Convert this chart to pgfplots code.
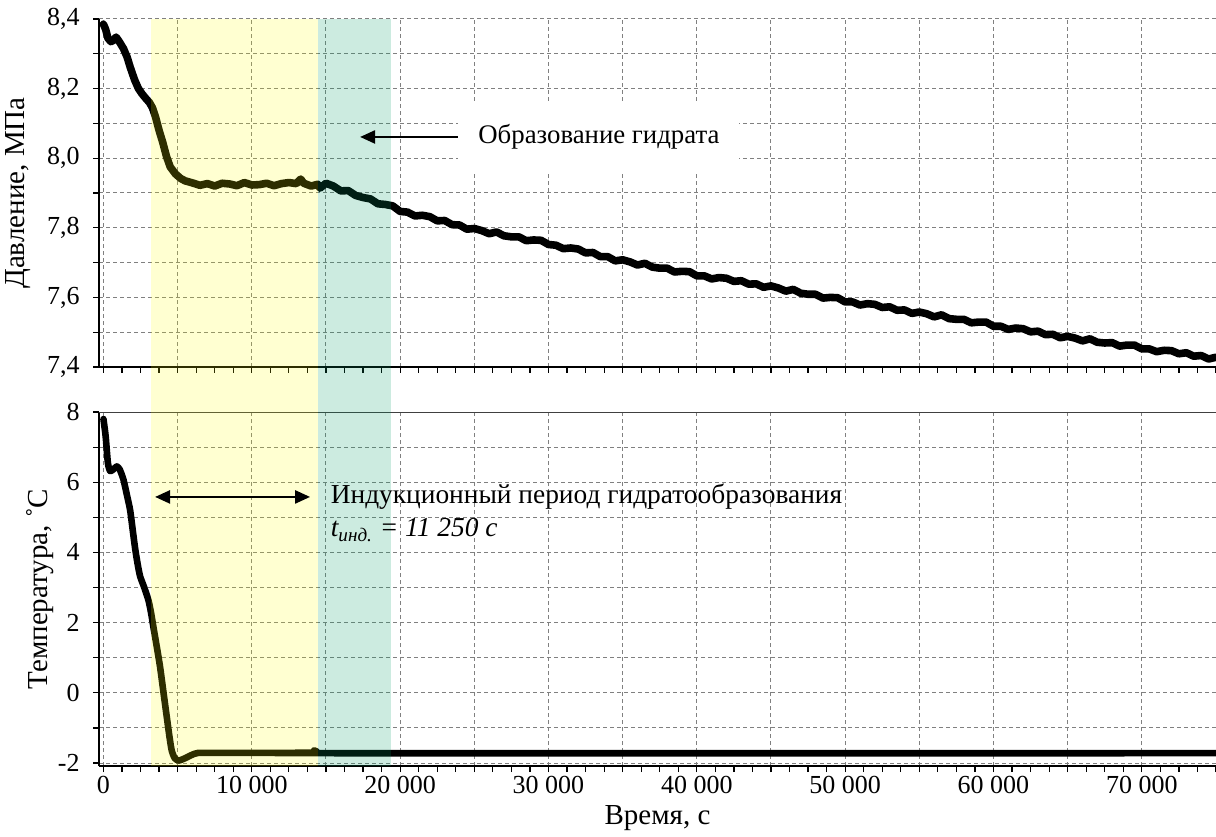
\documentclass[border=0pt]{standalone}
\usepackage{fontspec}
\setmainfont{Liberation Serif}
\usepackage{pgfplots}
\pgfplotsset{compat=1.18}
\usetikzlibrary{arrows.meta}

\definecolor{gridgray}{gray}{0.5}
\definecolor{hydyellow}{rgb}{1,1,0}
\definecolor{hydteal}{rgb}{0,0.6,0.4}

\pgfplotsset{
  gridline/.style={gridgray, line width=0.5pt, dash pattern=on 2pt off 1.5pt},
  panel/.style={
    scale only axis, width=558.5pt, anchor=south west,
    xmin=-300, xmax=75000,
    scaled x ticks=false, scaled y ticks=false,
    axis x line*=bottom, axis y line*=left,
    axis line style={-, line width=1.3pt, black},
    tick align=outside,
    xtick={0,10000,20000,30000,40000,50000,60000,70000},
    minor xtick={5000,15000,25000,35000,45000,55000,65000,75000},
    grid=both,
    major grid style={gridline},
    minor grid style={gridline},
    tick style={black, line width=0.6pt},
    major tick length=3pt, minor tick length=3pt,
    extra x ticks={0,1250,...,75000}, extra x tick labels={},
    extra x tick style={grid=none},
    clip=true,
  },
}

\begin{document}
\begin{tikzpicture}
\useasboundingbox (0,0) rectangle (608pt,418pt);

% ---------- pressure ----------
\begin{axis}[panel, name=top,
  at={(49.5pt,234.5pt)}, height=174pt,
  ymin=7.4, ymax=8.4,
  ytick={7.4,7.6,7.8,8.0,8.2,8.4},
  yticklabels={{7,4},{7,6},{7,8},{8,0},{8,2},{8,4}},
  minor ytick={7.5,7.7,7.9,8.1,8.3},
  xticklabels={},
  yticklabel style={font=\fontsize{13}{15}\selectfont, anchor=east, inner sep=0pt, xshift=-6.5pt},
  ylabel={Давление, МПа},
  ylabel style={at={(axis description cs:-0.0725,0.5)}, anchor=center,
    font=\fontsize{14.5}{16}\selectfont},
]
\addplot[black, line width=3.8pt, line join=round, line cap=round] coordinates {
(0,8.385) (150,8.370) (300,8.345) (500,8.335) (650,8.338) (850,8.348)
(1050,8.336) (1350,8.315) (1600,8.290) (1800,8.262) (2100,8.225) (2360,8.200)
(2600,8.185) (2850,8.172) (3100,8.160) (3300,8.145) (3500,8.120) (3750,8.080)
(4000,8.045) (4250,8.005) (4500,7.975) (4850,7.955) (5200,7.942) (5500,7.935)
(6000,7.929) (6500,7.922) (7000,7.927) (7500,7.920) (8000,7.928) (8500,7.926)
(9000,7.921) (9500,7.930) (10000,7.923) (10500,7.924) (11000,7.928) (11500,7.921)
(12000,7.927) (12500,7.930) (13000,7.927) (13300,7.940) (13500,7.928) (14000,7.920)
(14450,7.925) (14600,7.914) (15000,7.928) (15500,7.920) (16000,7.906) (16500,7.907)
(17000,7.893) (17500,7.887) (18000,7.883) (18500,7.869) (19000,7.867) (19500,7.863)
(20000,7.847) (20500,7.845) (21000,7.834) (21500,7.836) (22000,7.832) (22500,7.820)
(23000,7.821) (23500,7.809) (24000,7.808) (24500,7.796) (25000,7.798) (25500,7.792)
(26000,7.783) (26500,7.788) (27000,7.777) (27500,7.774) (28000,7.774) (28500,7.763)
(29000,7.765) (29500,7.764) (30000,7.752) (30500,7.750) (31000,7.740) (31500,7.742)
(32000,7.739) (32500,7.728) (33000,7.729) (33500,7.717) (34000,7.717) (34500,7.705)
(35000,7.708) (35500,7.702) (36000,7.693) (36500,7.698) (37000,7.687) (37500,7.684)
(38000,7.684) (38500,7.673) (39000,7.675) (39500,7.674) (40000,7.662) (40500,7.662)
(41000,7.653) (41500,7.657) (42000,7.655) (42500,7.646) (43000,7.648) (43500,7.638)
(44000,7.639) (44500,7.629) (45000,7.633) (45500,7.627) (46000,7.618) (46500,7.623)
(47000,7.612) (47500,7.609) (48000,7.609) (48500,7.598) (49000,7.600) (49500,7.599)
(50000,7.587) (50500,7.587) (51000,7.578) (51500,7.582) (52000,7.580) (52500,7.571)
(53000,7.573) (53500,7.563) (54000,7.564) (54500,7.554) (55000,7.558) (55500,7.553)
(56000,7.544) (56500,7.550) (57000,7.539) (57500,7.537) (58000,7.537) (58500,7.527)
(59000,7.529) (59500,7.529) (60000,7.517) (60500,7.517) (61000,7.508) (61500,7.512)
(62000,7.510) (62500,7.501) (63000,7.503) (63500,7.493) (64000,7.494) (64500,7.484)
(65000,7.488) (65500,7.483) (66000,7.475) (66500,7.481) (67000,7.471) (67500,7.469)
(68000,7.470) (68500,7.460) (69000,7.463) (69500,7.463) (70000,7.452) (70500,7.452)
(71000,7.444) (71500,7.448) (72000,7.447) (72500,7.438) (73000,7.441) (73500,7.431)
(74000,7.433) (74500,7.423) (75000,7.428)
};
\coordinate (ylwTop)  at (axis cs:3200,8.4);
\coordinate (tealTop) at (axis cs:19400,8.4);
\coordinate (arrTip)  at (axis cs:17300,8.061);
\coordinate (txtTop)  at (axis cs:23900,8.061);
\end{axis}

% ---------- temperature ----------
\begin{axis}[panel, name=bot,
  at={(49.5pt,35pt)}, height=177pt,
  ymin=-2.085, ymax=8,
  ytick={-2,0,2,4,6,8},
  yticklabels={-2,0,2,4,6,8},
  minor ytick={-1,1,3,5,7},
  xticklabels={0,10 000,20 000,30 000,40 000,50 000,60 000,70 000},
  xticklabel style={font=\fontsize{13}{15}\selectfont, anchor=base, inner sep=0pt, yshift=-10.5pt},
  yticklabel style={font=\fontsize{13}{15}\selectfont, anchor=east, inner sep=0pt, xshift=-6.5pt},
  ylabel={Температура, ˚C},
  ylabel style={at={(axis description cs:-0.0528,0.5)}, anchor=center,
    font=\fontsize{14.5}{16}\selectfont},
  xlabel={Время, с},
  xlabel style={at={(axis description cs:0.5,-0.147)}, anchor=center,
    font=\fontsize{14.5}{16}\selectfont},
]
\draw[black!75, line width=0.7pt] (rel axis cs:0,1) -- (rel axis cs:1,1);
\addplot[black, line width=3.3pt, line join=round, line cap=round, smooth, tension=0.4] coordinates {
(0,7.8) (150,7.3) (300,6.55) (450,6.32) (650,6.36) (900,6.45) (1100,6.36)
(1350,6.07) (1600,5.6) (1800,5.2) (2000,4.55) (2140,4.1) (2300,3.68) (2470,3.32)
(2750,3.0) (3030,2.64) (3200,2.3) (3370,1.87) (3600,1.3) (3820,0.73) (4050,0.0)
(4270,-0.69) (4450,-1.25) (4600,-1.64) (4800,-1.86) (5050,-1.93) (5300,-1.9)
(5620,-1.84) (6000,-1.76) (6300,-1.72) (7000,-1.71) (14000,-1.71) (14200,-1.64)
(14400,-1.70) (14600,-1.72) (75000,-1.72)
};
\coordinate (ylwBot)  at (axis cs:3200,-2.085);
\coordinate (tealBot) at (axis cs:14450,-2.085);
\coordinate (indA)    at (axis cs:3480,5.58);
\coordinate (indB)    at (axis cs:13930,5.58);
\coordinate (indTxt)  at (axis cs:15300,5.58);
\coordinate (indVal)  at (axis cs:15300,4.64);
\end{axis}

% tinted stages across both panels
\fill[hydyellow, fill opacity=0.18] (ylwBot) rectangle (tealTop -| tealBot);
\fill[hydteal, fill opacity=0.2] (tealBot) rectangle (tealTop);

% annotations
\node[fill=white, inner xsep=10pt, inner ysep=11pt, anchor=west,
  font=\fontsize{13.4}{15}\selectfont] (lab1) at (txtTop) {Образование гидрата};
\draw[line width=1.2pt, -{Triangle[length=7.5pt,width=6.5pt]}] (lab1.west) -- (arrTip);

\draw[line width=1.2pt, {Triangle[length=7.5pt,width=6.5pt]}-{Triangle[length=7.5pt,width=6.5pt]}] (indA) -- (indB);
\node[anchor=west, inner sep=0pt, font=\fontsize{13.7}{15}\selectfont] at (indTxt)
  {Индукционный период гидратообразования};
\node[anchor=west, inner sep=0pt, font=\fontsize{13.7}{15}\selectfont\itshape] at (indVal)
  {t\textsubscript{инд.} = 11 250 с};
\end{tikzpicture}
\end{document}
